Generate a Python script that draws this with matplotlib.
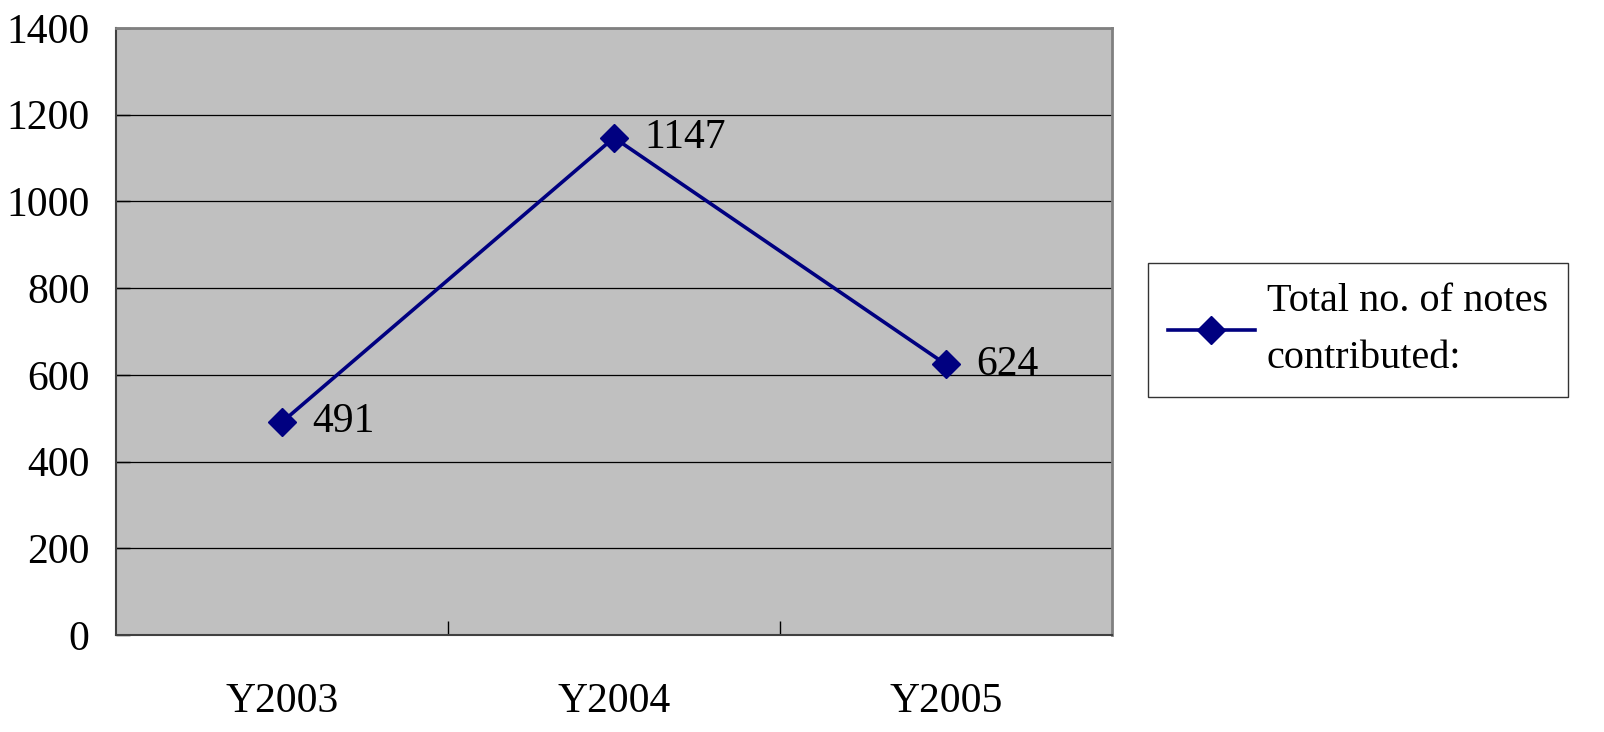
import matplotlib
matplotlib.use("Agg")
import matplotlib.pyplot as plt

# data
years = ["Y2003", "Y2004", "Y2005"]
notes = [491, 1147, 624]
series_name = "Total no. of notes\ncontributed:"
y_ticks = [0, 200, 400, 600, 800, 1000, 1200, 1400]

plt.rcParams["font.family"] = ["Liberation Serif", "DejaVu Serif"]

fig = plt.figure(figsize=(16.04, 7.32), dpi=100)
ax = fig.add_axes([116 / 1604, 1 - 635 / 732, (1112 - 116) / 1604, (635 - 28) / 732])
ax.set_facecolor("#C0C0C0")

x = list(range(len(years)))
line, = ax.plot(x, notes, color="#000080", lw=2.6, marker="D", markersize=14,
                label=series_name, zorder=3)
for xi, v in zip(x, notes):
    ax.annotate(str(v), (xi, v), xytext=(22, 0), textcoords="offset points",
                ha="left", va="center", fontsize=30, color="black")

ax.set_xlim(-0.5, len(years) - 0.5)
ax.set_ylim(0, 1400)
ax.set_yticks(y_ticks)
ax.yaxis.grid(True, color="black", lw=0.9)
ax.set_axisbelow(True)

# category labels centred, tick marks between categories
ax.set_xticks([i + 0.5 for i in range(len(years) - 1)])
ax.set_xticklabels([])
ax.set_xticks(x, minor=True)
ax.set_xticklabels(years, minor=True)
ax.tick_params(axis="x", which="minor", length=0, pad=34, labelsize=30)
ax.tick_params(axis="x", which="major", direction="in", length=10, width=1)
ax.tick_params(axis="y", direction="in", length=10, width=1, pad=19, labelsize=30)

for side in ["top", "right"]:
    ax.spines[side].set_color("#808080")
    ax.spines[side].set_linewidth(2)
for side in ["left", "bottom"]:
    ax.spines[side].set_color("#404040")
    ax.spines[side].set_linewidth(1.5)

leg = fig.legend(handles=[line], loc="upper left",
                 bbox_to_anchor=(1148 / 1604, 1 - 263 / 732),
                 fontsize=29, frameon=True, fancybox=False, edgecolor="black",
                 handlelength=2.15, handletextpad=0.3, borderpad=0.5,
                 borderaxespad=0)
leg.get_frame().set_linewidth(1)
for t in leg.get_texts():
    t.set_linespacing(1.72)

fig.savefig("out.png", dpi=100)
